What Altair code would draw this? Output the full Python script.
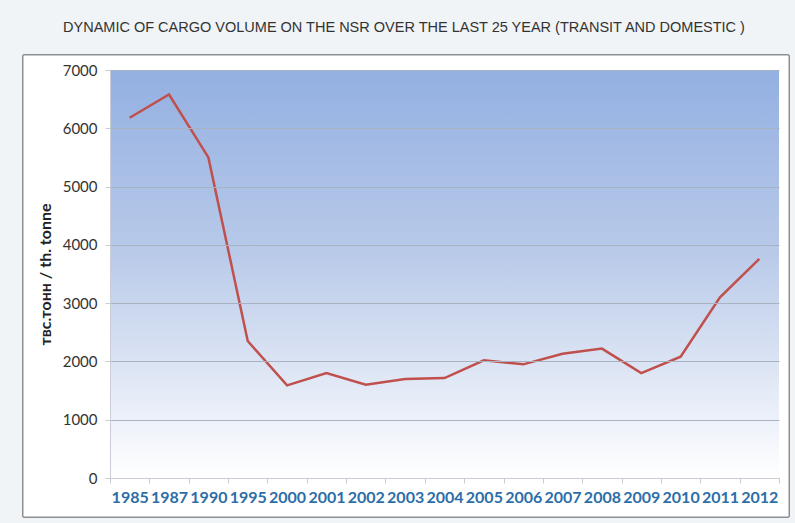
import altair as alt
import pandas as pd

# Cargo volume along the Northern Sea Route, thousand tonnes
years = ["1985", "1987", "1990", "1995", "2000", "2001", "2002", "2003", "2004",
         "2005", "2006", "2007", "2008", "2009", "2010", "2011", "2012"]
volume = [6180, 6580, 5500, 2350, 1590, 1800, 1600, 1700, 1715,
          2020, 1950, 2130, 2220, 1800, 2080, 3100, 3760]

title_text = "DYNAMIC OF CARGO VOLUME ON THE NSR OVER THE LAST 25 YEAR (TRANSIT AND DOMESTIC )"
y_title = "твс.тонн / th. tonne"

df = pd.DataFrame({"year": years, "volume": volume})

W, H = 669, 408
LEFT, TOP = 110, 70

base = alt.Chart(df)

# white framed panel behind the plot
frame = base.mark_rect(fill="white", stroke="#8c8f94", strokeWidth=1).encode(
    x=alt.value(23 - LEFT), x2=alt.value(789 - LEFT),
    y=alt.value(55 - TOP), y2=alt.value(517 - TOP),
)

# blue-to-white plot background
plot_bg = base.mark_rect(
    color=alt.LinearGradient(
        gradient="linear",
        stops=[
            alt.GradientStop(color="#93b0e2", offset=0),
            alt.GradientStop(color="#b9cae9", offset=0.45),
            alt.GradientStop(color="#ffffff", offset=1),
        ],
        x1=0, x2=0, y1=0, y2=1,
    )
).encode(x=alt.value(0), x2=alt.value(W), y=alt.value(0), y2=alt.value(H))

heading = alt.Chart(pd.DataFrame({"t": [title_text]})).mark_text(
    font="Liberation Sans", fontSize=14.5, fontWeight="normal", fill="#333333",
    align="center", baseline="middle",
).encode(text="t:N", x=alt.value(404 - LEFT), y=alt.value(28 - TOP))

line = base.mark_line(color="#c0504d", strokeWidth=2.5).encode(
    x=alt.X(
        "year:N", sort=years, title=None,
        scale=alt.Scale(paddingInner=0, paddingOuter=0),
        axis=alt.Axis(
            labelAngle=0, labelFont="Lato", labelFontSize=16,
            labelFontWeight="bold", labelColor="#2c6ea8", labelPadding=6,
            tickBand="extent", tickColor="#c9ced6", tickSize=5,
            domainColor="#c9ced6", grid=False, zindex=1,
        ),
    ),
    y=alt.Y(
        "volume:Q", title=y_title,
        scale=alt.Scale(domain=[0, 7000], nice=False),
        axis=alt.Axis(
            values=[0, 1000, 2000, 3000, 4000, 5000, 6000, 7000], format="d",
            labelFont="Lato", labelFontSize=15, labelColor="#333333",
            labelPadding=8, tickColor="#c9ced6", tickSize=5,
            domainColor="#c9ced6", gridColor="#a9b2c0", gridWidth=1,
            titleFont="Lato", titleFontSize=16, titleFontWeight="bold",
            titleColor="#222222", titlePadding=9, zindex=1,
        ),
    ),
)

chart = alt.layer(frame, plot_bg, line, heading).properties(
    width=W, height=H,
    padding={"left": LEFT, "top": TOP, "right": 795 - LEFT - W, "bottom": 523 - TOP - H},
    autosize=alt.AutoSizeParams(type="none"),
    background="#f1f4f7",
).configure_view(stroke=None)

chart.save("out.html", embed_options={"renderer": "svg", "actions": False})
